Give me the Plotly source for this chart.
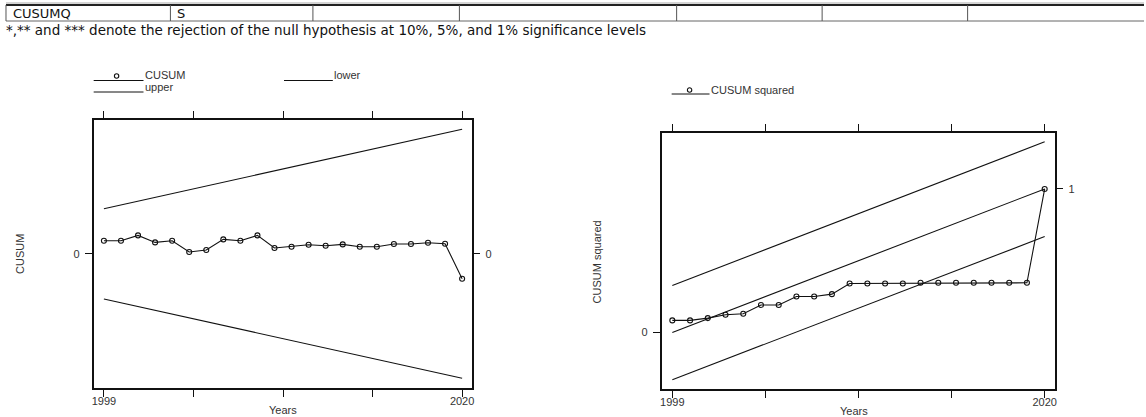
import plotly.graph_objects as go

# ---------------- data ----------------
years = list(range(1999, 2021))
cusum = [1.3, 1.3, 1.83, 1.13, 1.3, 0.17, 0.37, 1.43, 1.3, 1.83, 0.57,
         0.7, 0.9, 0.8, 0.93, 0.7, 0.7, 0.97, 0.97, 1.1, 1.0, -2.5]
bound_years = [1999, 2020]
cusum_upper = [4.5, 12.44]
cusum_lower = [-4.53, -12.46]

cusumsq = [0.084, 0.084, 0.100, 0.123, 0.130, 0.191, 0.191, 0.251, 0.251,
           0.267, 0.341, 0.341, 0.341, 0.341, 0.346, 0.346, 0.346, 0.346,
           0.346, 0.346, 0.346, 1.0]
sq_mid = [0.0, 1.0]
sq_upper = [0.327, 1.329]
sq_lower = [-0.329, 0.668]

x_tickvals = [1999, 2004.25, 2009.5, 2014.75, 2020]
x_ticktext = ["1999", "", "", "", "2020"]

table_cells = ["CUSUMQ", "S", "", "", "", "", ""]
note = "*,** and *** denote the rejection of the null hypothesis at 10%, 5%, and 1% significance levels"

# ---------------- layout helpers ----------------
W, H = 1146, 417
def fx(p): return p / W
def fy(p): return 1 - p / H

BLACK = "#111111"
TXT = "#333333"
FONT = "Liberation Sans"
FS = 11
tickfont = dict(family=FONT, size=FS, color=TXT)

fig = go.Figure()
line_style = dict(color=BLACK, width=1.1)
mk = dict(symbol="circle-open", size=5, color=BLACK, line=dict(width=1.1))

# left panel
fig.add_trace(go.Scatter(x=bound_years, y=cusum_upper, mode="lines", line=line_style,
                         xaxis="x", yaxis="y3", showlegend=False, name="upper"))
fig.add_trace(go.Scatter(x=bound_years, y=cusum_lower, mode="lines", line=line_style,
                         xaxis="x", yaxis="y", showlegend=False, name="lower"))
fig.add_trace(go.Scatter(x=years, y=cusum, mode="lines+markers", line=line_style, marker=mk,
                         xaxis="x", yaxis="y", showlegend=False, name="CUSUM"))
# right panel
fig.add_trace(go.Scatter(x=bound_years, y=sq_upper, mode="lines", line=line_style,
                         xaxis="x2", yaxis="y4", showlegend=False))
for arr in (sq_mid, sq_lower):
    fig.add_trace(go.Scatter(x=bound_years, y=arr, mode="lines", line=line_style,
                             xaxis="x2", yaxis="y2", showlegend=False))
fig.add_trace(go.Scatter(x=years, y=cusumsq, mode="lines+markers", line=line_style, marker=mk,
                         xaxis="x2", yaxis="y2", showlegend=False, name="CUSUM squared"))

xcommon = dict(range=[1998.4, 2020.6], tickvals=x_tickvals, ticktext=x_ticktext,
               ticks="outside", ticklen=7, tickwidth=1, tickcolor=BLACK,
               showline=True, linecolor=BLACK, linewidth=1.5, mirror="ticks",
               showgrid=False, zeroline=False, tickfont=tickfont, fixedrange=True,
               ticklabelstandoff=-5)
ycommon = dict(ticks="outside", ticklen=7, tickwidth=1, tickcolor=BLACK,
               showline=True, linecolor=BLACK, linewidth=1.5, mirror=True,
               showgrid=False, zeroline=False, tickfont=tickfont, fixedrange=True,
               ticklabelstandoff=3)
yright = dict(side="right", ticks="outside", ticklen=7, tickwidth=1, tickcolor=BLACK,
              showline=False, showgrid=False, zeroline=False, tickfont=tickfont,
              fixedrange=True, ticklabelstandoff=3)

L = dict(x0=92, x1=472, y0=120, y1=388)
R = dict(x0=662, x1=1057, y0=132.7, y1=389)
yl_range = [-13.43, 13.37]
yr_range = [-0.394, 1.392]

fig.update_layout(
    width=W, height=H, margin=dict(l=0, r=0, t=0, b=0),
    paper_bgcolor="white", plot_bgcolor="white", showlegend=False,
    xaxis=dict(domain=[fx(L["x0"]), fx(L["x1"])], anchor="y", **xcommon),
    yaxis=dict(domain=[fy(L["y1"]), fy(L["y0"])], anchor="x", range=yl_range,
               tickvals=[0], ticktext=["0"], **ycommon),
    yaxis3=dict(overlaying="y", anchor="x", range=yl_range, tickvals=[0], ticktext=["0"], **yright),
    xaxis2=dict(domain=[fx(R["x0"]), fx(R["x1"])], anchor="y2", **xcommon),
    yaxis2=dict(domain=[fy(R["y1"]), fy(R["y0"])], anchor="x2", range=yr_range,
                tickvals=[0], ticktext=["0"], **ycommon),
    yaxis4=dict(overlaying="y2", anchor="x2", range=yr_range, tickvals=[1], ticktext=["1"], **yright),
)

shapes = []
annos = []

# table at top
col_x = [4, 169, 312, 459, 677, 823, 969]
t_top, t_bot = 5, 21
shapes.append(dict(type="line", xref="paper", yref="paper", x0=fx(col_x[0]), x1=1,
                   y0=fy(t_top - 2), y1=fy(t_top - 2), line=dict(color="#aaa", width=1)))
shapes.append(dict(type="line", xref="paper", yref="paper", x0=fx(col_x[0]), x1=1,
                   y0=fy(t_top), y1=fy(t_top), line=dict(color="#222", width=2)))
shapes.append(dict(type="line", xref="paper", yref="paper", x0=fx(col_x[0]), x1=1,
                   y0=fy(t_bot), y1=fy(t_bot), line=dict(color="#666", width=1)))
for cx in col_x:
    shapes.append(dict(type="line", xref="paper", yref="paper", x0=fx(cx), x1=fx(cx),
                       y0=fy(t_top), y1=fy(t_bot), line=dict(color="#555", width=1)))
for cx, txt in zip(col_x, table_cells):
    if txt:
        annos.append(dict(text=txt, x=fx(cx + 5), y=fy((t_top + t_bot) / 2 + 0.5), xref="paper", yref="paper",
                          xanchor="left", yanchor="middle", showarrow=False,
                          font=dict(family="DejaVu Sans", size=13, color="#111")))
annos.append(dict(text=note, x=fx(2), y=fy(29.5), xref="paper", yref="paper",
                  xanchor="left", yanchor="middle", showarrow=False,
                  font=dict(family="DejaVu Sans", size=13.5, color="#111")))

# legends (drawn manually to mimic the original layout)
def leg_line(x0, x1, y):
    shapes.append(dict(type="line", xref="paper", yref="paper", x0=fx(x0), x1=fx(x1),
                       y0=fy(y), y1=fy(y), line=dict(color=BLACK, width=1)))
def leg_marker(x, y, r=2.2):
    shapes.append(dict(type="circle", xref="paper", yref="paper", x0=fx(x - r), x1=fx(x + r),
                       y0=fy(y + r), y1=fy(y - r), line=dict(color=BLACK, width=1.1)))
def leg_text(txt, x, y):
    annos.append(dict(text=txt, x=fx(x), y=fy(y), xref="paper", yref="paper",
                      xanchor="left", yanchor="middle", showarrow=False,
                      font=dict(family=FONT, size=FS, color=TXT)))

leg_line(92, 142, 80.5); leg_marker(115, 76); leg_text("CUSUM", 141, 74.5)
leg_line(92, 142, 92); leg_text("upper", 141, 87)
leg_line(283, 332, 80.5); leg_text("lower", 331, 74.5)
leg_line(672, 710, 94); leg_marker(690, 90); leg_text("CUSUM squared", 709, 89.5)

# axis titles
def title(txt, x, y, angle=0):
    annos.append(dict(text=txt, x=fx(x), y=fy(y), xref="paper", yref="paper",
                      xanchor="center", yanchor="middle", showarrow=False, textangle=angle,
                      font=dict(family=FONT, size=FS, color=TXT)))
title("Years", 282, 410)
title("Years", 855, 411)
title("CUSUM", 18, 254, -90)
title("CUSUM squared", 597, 261.5, -90)

fig.update_layout(shapes=shapes, annotations=annos)
fig.write_html("out.html", config={"displayModeBar": False},
               post_script="document.body.style.margin='0';document.body.style.padding='0';")
